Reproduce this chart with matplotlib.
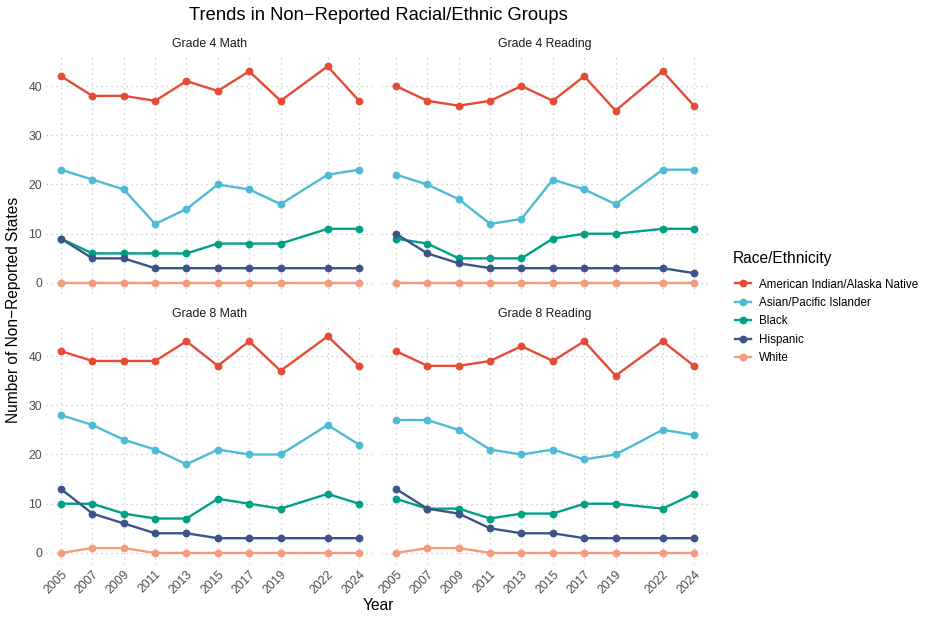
import matplotlib
matplotlib.use('Agg')
import matplotlib.pyplot as plt
from matplotlib.lines import Line2D

plt.rcParams['font.family'] = ['Liberation Sans', 'DejaVu Sans']

# 数据
years = [2005, 2007, 2009, 2011, 2013, 2015, 2017, 2019, 2022, 2024]
groups = ['American Indian/Alaska Native', 'Asian/Pacific Islander',
          'Black', 'Hispanic', 'White']
colors = ['#E64B35', '#4DBBD5', '#00A087', '#3C5488', '#F39B7F']

g4_math = {
    'American Indian/Alaska Native': [42, 38, 38, 37, 41, 39, 43, 37, 44, 37],
    'Asian/Pacific Islander': [23, 21, 19, 12, 15, 20, 19, 16, 22, 23],
    'Black': [9, 6, 6, 6, 6, 8, 8, 8, 11, 11],
    'Hispanic': [9, 5, 5, 3, 3, 3, 3, 3, 3, 3],
    'White': [0, 0, 0, 0, 0, 0, 0, 0, 0, 0],
}
g4_reading = {
    'American Indian/Alaska Native': [40, 37, 36, 37, 40, 37, 42, 35, 43, 36],
    'Asian/Pacific Islander': [22, 20, 17, 12, 13, 21, 19, 16, 23, 23],
    'Black': [9, 8, 5, 5, 5, 9, 10, 10, 11, 11],
    'Hispanic': [10, 6, 4, 3, 3, 3, 3, 3, 3, 2],
    'White': [0, 0, 0, 0, 0, 0, 0, 0, 0, 0],
}
g8_math = {
    'American Indian/Alaska Native': [41, 39, 39, 39, 43, 38, 43, 37, 44, 38],
    'Asian/Pacific Islander': [28, 26, 23, 21, 18, 21, 20, 20, 26, 22],
    'Black': [10, 10, 8, 7, 7, 11, 10, 9, 12, 10],
    'Hispanic': [13, 8, 6, 4, 4, 3, 3, 3, 3, 3],
    'White': [0, 1, 1, 0, 0, 0, 0, 0, 0, 0],
}
g8_reading = {
    'American Indian/Alaska Native': [41, 38, 38, 39, 42, 39, 43, 36, 43, 38],
    'Asian/Pacific Islander': [27, 27, 25, 21, 20, 21, 19, 20, 25, 24],
    'Black': [11, 9, 9, 7, 8, 8, 10, 10, 9, 12],
    'Hispanic': [13, 9, 8, 5, 4, 4, 3, 3, 3, 3],
    'White': [0, 1, 1, 0, 0, 0, 0, 0, 0, 0],
}

panels = [('Grade 4 Math', g4_math), ('Grade 4 Reading', g4_reading),
          ('Grade 8 Math', g8_math), ('Grade 8 Reading', g8_reading)]

fig = plt.figure(figsize=(9.27, 6.19), dpi=100)

# 面板位置（像素）
W, H = 927, 619
lefts = [46.1, 381.1]
tops = [55.5, 325.5]
pw, ph = 327.8, 238.3

tick_color = '#4D4D4D'
grid_kw = dict(color='#C4C4C4', linestyle=(0, (1, 3)), linewidth=0.9)

for i, (name, data) in enumerate(panels):
    row, col = divmod(i, 2)
    ax = fig.add_axes([lefts[col] / W, 1 - (tops[row] + ph) / H, pw / W, ph / H])
    for g, c in zip(groups, colors):
        ax.plot(years, data[g], color=c, linewidth=1.7, zorder=3)
    for g, c in zip(groups, colors):
        ax.plot(years, data[g], 'o', color=c, markersize=4.6, zorder=4)

    ax.set_xlim(2004.05, 2024.95)
    ax.set_ylim(-2.2, 46.2)
    ax.set_xticks(years)
    ax.set_yticks([0, 10, 20, 30, 40])
    ax.grid(True, **grid_kw)
    ax.set_axisbelow(True)
    for s in ax.spines.values():
        s.set_visible(False)
    ax.tick_params(length=0, labelsize=8.8, colors=tick_color, pad=3)
    if row == 0:
        ax.set_xticklabels([])
    else:
        ax.set_xticklabels([str(y) for y in years], rotation=45,
                           ha='right', rotation_mode='anchor')
    if col == 1:
        ax.set_yticklabels([])
    ax.set_title(name, fontsize=8.8, color='#1A1A1A', pad=6)

fig.text(378 / W, 1 - 15 / H, 'Trends in Non\u2212Reported Racial/Ethnic Groups',
         ha='center', va='center', fontsize=13.2)
fig.text(14 / W, 1 - 310 / H, 'Number of Non\u2212Reported States',
         rotation=90, ha='center', va='center', fontsize=11.2)
fig.text(378 / W, 1 - 606 / H, 'Year', ha='center', va='center', fontsize=11.2)

# 图例（标题单独放置）
fig.text(733 / W, 1 - 258 / H, 'Race/Ethnicity', ha='left', va='center',
         fontsize=11.2)
handles = [Line2D([0], [0], color=c, linewidth=1.7, marker='o', markersize=4.6)
           for c in colors]
leg = fig.legend(handles, groups, loc='upper left',
                 bbox_to_anchor=(724 / W, 1 - 268 / H), frameon=False,
                 fontsize=8.4, handlelength=1.4,
                 handletextpad=0.7, labelspacing=0.55)

plt.savefig('out.png', dpi=100)
plt.close()
